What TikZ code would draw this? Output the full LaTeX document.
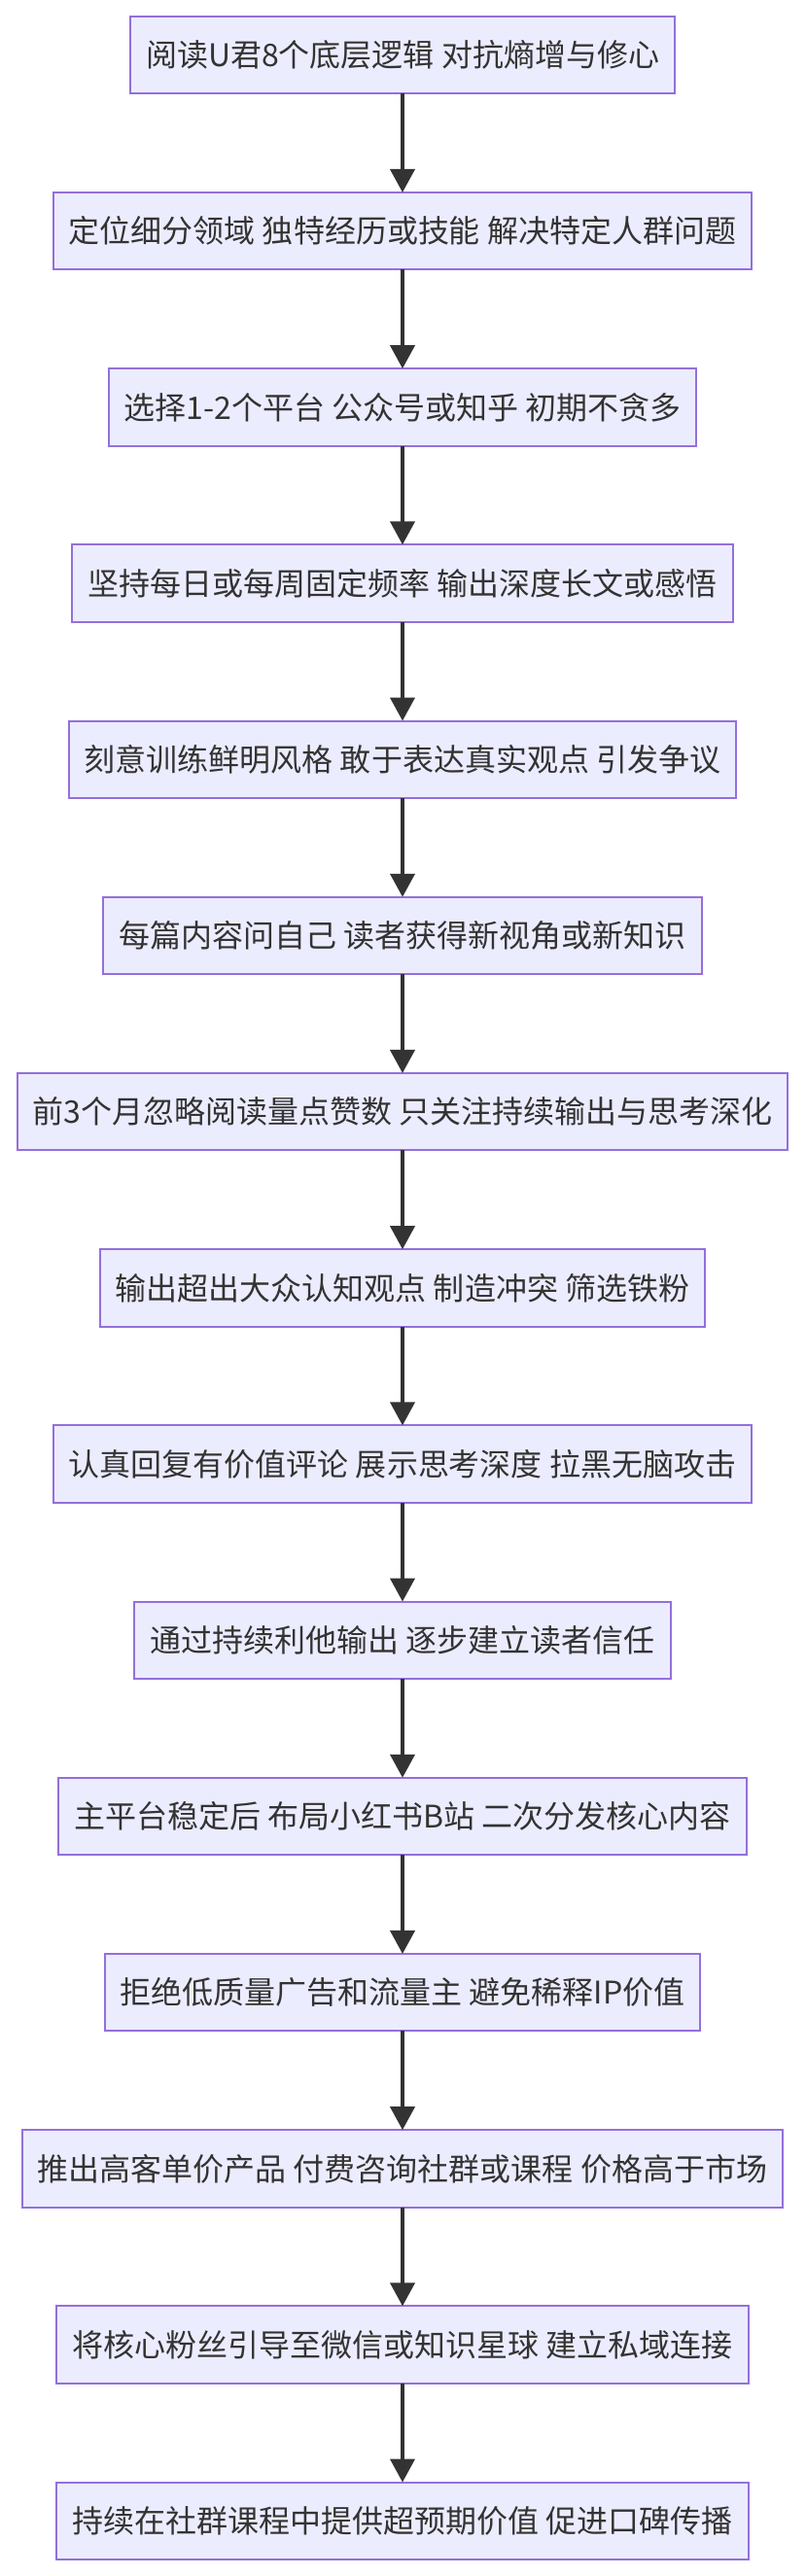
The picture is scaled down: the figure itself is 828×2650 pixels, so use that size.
\documentclass[tikz,border=0pt]{standalone}
\usepackage{fontspec}
\setmainfont{Noto Sans CJK SC}
\usetikzlibrary{arrows.meta,positioning}

\definecolor{boxfill}{HTML}{ECECFF}
\definecolor{boxline}{HTML}{9370DB}
\definecolor{arrline}{HTML}{333333}

\begin{document}
\begin{tikzpicture}[
    x=1pt, y=1pt,
    node distance=101.7pt,
    box/.style={
        rectangle, draw=boxline, line width=2pt, outer sep=0pt,
        fill=boxfill, minimum height=79.5pt, inner xsep=16pt,
        text=arrline, font=\fontsize{32pt}{38pt}\selectfont
    },
    arr/.style={-{Triangle[length=24pt,width=25pt]}, line width=4pt, color=arrline}
]
    \useasboundingbox (0,0) rectangle (828,-2650);

    \node[box] (s1) at (414,-56.5) {阅读U君8个底层逻辑 对抗熵增与修心};
    \node[box, below=of s1] (s2) {定位细分领域 独特经历或技能 解决特定人群问题};
    \node[box, below=of s2] (s3) {选择1-2个平台 公众号或知乎 初期不贪多};
    \node[box, below=of s3] (s4) {坚持每日或每周固定频率 输出深度长文或感悟};
    \node[box, below=of s4] (s5) {刻意训练鲜明风格 敢于表达真实观点 引发争议};
    \node[box, below=of s5] (s6) {每篇内容问自己 读者获得新视角或新知识};
    \node[box, below=of s6] (s7) {前3个月忽略阅读量点赞数 只关注持续输出与思考深化};
    \node[box, below=of s7] (s8) {输出超出大众认知观点 制造冲突 筛选铁粉};
    \node[box, below=of s8] (s9) {认真回复有价值评论 展示思考深度 拉黑无脑攻击};
    \node[box, below=of s9] (s10) {通过持续利他输出 逐步建立读者信任};
    \node[box, below=of s10] (s11) {主平台稳定后 布局小红书B站 二次分发核心内容};
    \node[box, below=of s11] (s12) {拒绝低质量广告和流量主 避免稀释IP价值};
    \node[box, below=of s12] (s13) {推出高客单价产品 付费咨询社群或课程 价格高于市场};
    \node[box, below=of s13] (s14) {将核心粉丝引导至微信或知识星球 建立私域连接};
    \node[box, below=of s14] (s15) {持续在社群课程中提供超预期价值 促进口碑传播};

    \draw[arr] (s1) -- (s2);
    \draw[arr] (s2) -- (s3);
    \draw[arr] (s3) -- (s4);
    \draw[arr] (s4) -- (s5);
    \draw[arr] (s5) -- (s6);
    \draw[arr] (s6) -- (s7);
    \draw[arr] (s7) -- (s8);
    \draw[arr] (s8) -- (s9);
    \draw[arr] (s9) -- (s10);
    \draw[arr] (s10) -- (s11);
    \draw[arr] (s11) -- (s12);
    \draw[arr] (s12) -- (s13);
    \draw[arr] (s13) -- (s14);
    \draw[arr] (s14) -- (s15);
\end{tikzpicture}
\end{document}
